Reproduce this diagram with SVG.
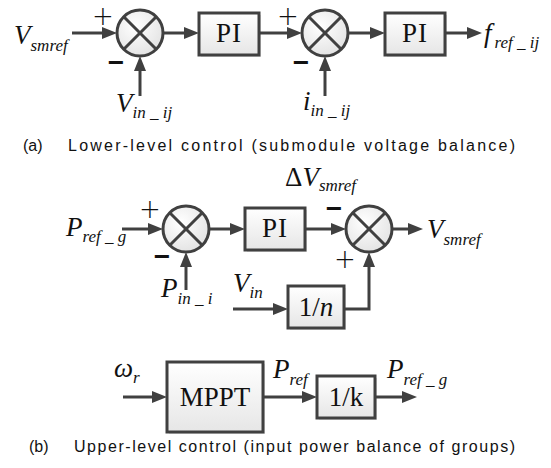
<svg xmlns="http://www.w3.org/2000/svg" width="551" height="468" viewBox="0 0 551 468">
<defs>
  <linearGradient id="boxfill" x1="0" y1="0" x2="0" y2="1">
    <stop offset="0" stop-color="#ffffff"/>
    <stop offset="1" stop-color="#e6e6e6"/>
  </linearGradient>
  <radialGradient id="sumfill" cx="0.4" cy="0.35" r="0.7">
    <stop offset="0" stop-color="#ffffff"/>
    <stop offset="1" stop-color="#e2e2e2"/>
  </radialGradient>
  <marker id="arr" viewBox="0 0 15 12" refX="0" refY="6" markerWidth="15" markerHeight="12" markerUnits="userSpaceOnUse" orient="auto">
    <path d="M0,0 L15,6 L0,12 Z" fill="#404040"/>
  </marker>
</defs>
<style>
  .ln { fill: none; stroke: #404040; stroke-width: 3; }
  .ar { fill: none; stroke: #404040; stroke-width: 3; marker-end: url(#arr); }
  .box { fill: url(#boxfill); stroke: #404040; stroke-width: 3; }
  .shadow { fill: #000000; opacity: 0.12; }
  .sum { fill: url(#sumfill); stroke: #404040; stroke-width: 3; }
  .x { stroke: #404040; stroke-width: 3; }
  .blk { font-family: "Liberation Serif", "Times New Roman", serif; font-size: 27px; fill: #111111; }
  .var { font-family: "Liberation Serif", "Times New Roman", serif; font-style: italic; font-size: 27px; fill: #111111; }
  .sub { font-size: 17px; }
  .plus { font-family: "DejaVu Sans", sans-serif; font-weight: 300; font-size: 26px; fill: #111111; }
  .minus { font-family: "Liberation Sans", Arial, sans-serif; font-weight: bold; font-size: 28px; fill: #111111; }
  .cap { font-family: "Liberation Sans", Arial, sans-serif; font-size: 16px; fill: #111111; }
</style>

<!-- (a) lower-level control -->
<g id="sum1">
  <circle class="sum" cx="140" cy="33" r="23"/>
  <line class="x" x1="124" y1="17" x2="156" y2="49"/>
  <line class="x" x1="156" y1="17" x2="124" y2="49"/>
  <text class="plus" x="103" y="24.5" text-anchor="middle">+</text>
  <text class="minus" x="116" y="72" text-anchor="middle">−</text>
</g>
<g id="pi1">
  <rect class="shadow" x="201" y="15" width="60" height="42"/>
  <rect class="box" x="199" y="13" width="60" height="42"/>
  <text class="blk" x="229" y="42" text-anchor="middle" letter-spacing="1">PI</text>
</g>
<g id="sum2">
  <circle class="sum" cx="325" cy="33" r="23"/>
  <line class="x" x1="309" y1="17" x2="341" y2="49"/>
  <line class="x" x1="341" y1="17" x2="309" y2="49"/>
  <text class="plus" x="288" y="24.5" text-anchor="middle">+</text>
  <text class="minus" x="301" y="72" text-anchor="middle">−</text>
</g>
<g id="pi2">
  <rect class="shadow" x="387" y="15" width="60" height="42"/>
  <rect class="box" x="385" y="13" width="60" height="42"/>
  <text class="blk" x="415" y="42" text-anchor="middle" letter-spacing="1">PI</text>
</g>
<g id="label-vsmref-a">
  <text class="var" x="14" y="44">V<tspan class="sub" dy="7">smref</tspan></text>
</g>
<g id="label-vin-ij">
  <text class="var" x="116" y="112">V<tspan class="sub" dy="6">in _ ij</tspan></text>
</g>
<g id="label-iin-ij">
  <text class="var" x="303" y="110">i<tspan class="sub" dy="6">in _ ij</tspan></text>
</g>
<g id="label-fref-ij">
  <text class="var" x="484" y="42">f<tspan class="sub" dy="6" dx="3">ref _ ij</tspan></text>
</g>

<!-- (b) upper-level control -->
<g id="sum3">
  <circle class="sum" cx="186" cy="229" r="23"/>
  <line class="x" x1="170" y1="213" x2="202" y2="245"/>
  <line class="x" x1="202" y1="213" x2="170" y2="245"/>
  <text class="plus" x="150" y="218" text-anchor="middle">+</text>
  <text class="minus" x="162" y="266" text-anchor="middle">−</text>
</g>
<g id="pi3">
  <rect class="shadow" x="247" y="210" width="60" height="42"/>
  <rect class="box" x="245" y="208" width="60" height="42"/>
  <text class="blk" x="275" y="237" text-anchor="middle" letter-spacing="1">PI</text>
</g>
<g id="sum4">
  <circle class="sum" cx="369" cy="229" r="23"/>
  <line class="x" x1="353" y1="213" x2="385" y2="245"/>
  <line class="x" x1="385" y1="213" x2="353" y2="245"/>
  <text class="minus" x="334" y="218" text-anchor="middle">−</text>
  <text class="plus" x="345" y="268" text-anchor="middle">+</text>
</g>
<g id="gain-n">
  <rect class="shadow" x="290" y="288" width="56" height="42"/>
  <rect class="box" x="288" y="286" width="56" height="42"/>
  <text class="blk" x="316" y="316" text-anchor="middle">1/<tspan font-style="italic">n</tspan></text>
</g>
<g id="mppt">
  <rect class="shadow" x="169" y="364" width="96" height="70"/>
  <rect class="box" x="167" y="362" width="96" height="70"/>
  <text class="blk" x="215" y="406" text-anchor="middle">MPPT</text>
</g>
<g id="gain-k">
  <rect class="shadow" x="319" y="378" width="58" height="42"/>
  <rect class="box" x="317" y="376" width="58" height="42"/>
  <text class="blk" x="346" y="406" text-anchor="middle">1/k</text>
</g>
<g id="label-prefg-1">
  <text class="var" x="66" y="236">P<tspan class="sub" dy="6">ref _ g</tspan></text>
</g>
<g id="label-pin-i">
  <text class="var" x="161" y="297">P<tspan class="sub" dy="7">in _ i</tspan></text>
</g>
<g id="label-dvsmref">
  <text class="var" x="285" y="186"><tspan font-style="normal">Δ</tspan>V<tspan class="sub" dy="5">smref</tspan></text>
</g>
<g id="label-vsmref-b">
  <text class="var" x="427" y="238">V<tspan class="sub" dy="7">smref</tspan></text>
</g>
<g id="label-vin">
  <text class="var" x="233" y="292">V<tspan class="sub" dy="6">in</tspan></text>
</g>
<g id="label-omega">
  <text class="var" x="114" y="377">ω<tspan class="sub" dy="6">r</tspan></text>
</g>
<g id="label-pref">
  <text class="var" x="273" y="378">P<tspan class="sub" dy="7">ref</tspan></text>
</g>
<g id="label-prefg-2">
  <text class="var" x="387" y="378">P<tspan class="sub" dy="7">ref _ g</tspan></text>
</g>

<g id="connectors">
  <line class="ar" x1="72" y1="33" x2="102" y2="33"/>
  <line class="ar" x1="163" y1="33" x2="184" y2="33"/>
  <line class="ar" x1="259" y1="33" x2="287" y2="33"/>
  <line class="ar" x1="348" y1="33" x2="370" y2="33"/>
  <line class="ar" x1="445" y1="33" x2="467" y2="33"/>
  <line class="ar" x1="140" y1="96" x2="140" y2="71"/>
  <line class="ar" x1="325" y1="96" x2="325" y2="71"/>

  <line class="ar" x1="122" y1="229" x2="148" y2="229"/>
  <line class="ar" x1="209" y1="229" x2="230" y2="229"/>
  <line class="ar" x1="305" y1="229" x2="331" y2="229"/>
  <line class="ar" x1="392" y1="229" x2="408" y2="229"/>
  <line class="ar" x1="186" y1="290" x2="186" y2="267"/>
  <line class="ar" x1="233" y1="309" x2="273" y2="309"/>
  <polyline class="ar" points="344,309 369,309 369,267"/>

  <line class="ar" x1="123" y1="397" x2="152" y2="397"/>
  <line class="ar" x1="263" y1="397" x2="302" y2="397"/>
  <line class="ar" x1="375" y1="397" x2="402" y2="397"/>
</g>

<g id="captions">
  <text class="cap" x="23" y="151">(a)</text>
  <text class="cap" x="68" y="151" textLength="447" lengthAdjust="spacing">Lower-level control (submodule voltage balance)</text>
  <text class="cap" x="29" y="452">(b)</text>
  <text class="cap" x="74" y="452" textLength="441" lengthAdjust="spacing">Upper-level control (input power balance of groups)</text>
</g>
</svg>
